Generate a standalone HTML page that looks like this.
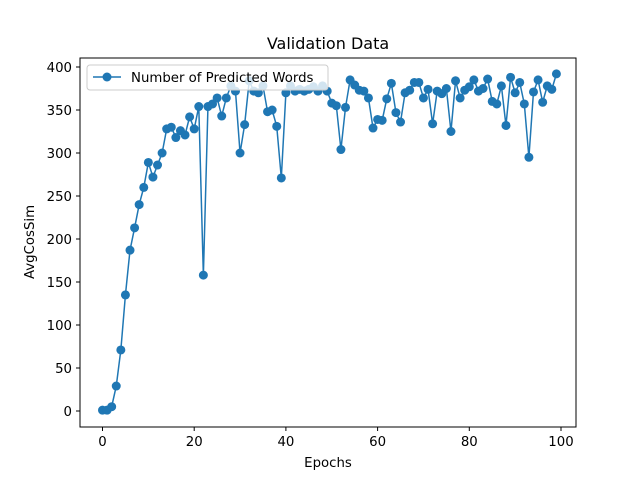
<!DOCTYPE html>
<html><head><meta charset="utf-8"><style>
body{margin:0;background:#fff;}
svg{display:block;font-family:"DejaVu Sans","Liberation Sans",sans-serif;}
</style></head><body>
<svg id="chart" width="640" height="480">
<rect width="640" height="480" fill="#fff"/>
<text x="328" y="49" text-anchor="middle" font-size="16">Validation Data</text>
<g id="plot"></g>
<rect x="80" y="58" width="496" height="369" fill="none" stroke="#000" stroke-width="1"/>
<text x="328" y="467" text-anchor="middle" font-size="13.3">Epochs</text>
<text transform="translate(34,242) rotate(-90)" text-anchor="middle" font-size="13.3">AvgCosSim</text>
<g>
<rect x="87" y="65" width="241" height="25" rx="3" fill="#fff" fill-opacity="0.8" stroke="#ccc"/>
<line x1="93" y1="77" x2="121" y2="77" stroke="#1f77b4" stroke-width="1.5"/>
<circle cx="107" cy="77" r="4.5" fill="#1f77b4"/>
<text x="131" y="82" font-size="13.3">Number of Predicted Words</text>
</g>
</svg>
<script>
const epochs = Array.from({length:100},(_, i)=>i);
const values = [1,1,5,29,71,135,187,213,240,260,289,272,286,300,328,330,318,326,321,342,328,354,158,354,357,364,343,364,378,372,300,333,384,372,370,378,348,350,331,271,370,378,372,374,372,374,377,372,378,372,358,355,304,353,385,379,373,372,364,329,339,338,363,381,347,336,370,373,382,382,364,374,334,372,369,375,325,384,364,373,377,385,372,375,386,360,357,378,332,388,370,382,357,295,371,385,359,378,374,392];
const xTicks = [0,20,40,60,80,100];
const yTicks = [0,50,100,150,200,250,300,350,400];

const NS="http://www.w3.org/2000/svg";
const g=document.getElementById('plot');
const xs=v=>102.5+v*4.585;
const ys=v=>411-v*0.86;
function mk(t,a){const e=document.createElementNS(NS,t);for(const k in a)e.setAttribute(k,a[k]);g.appendChild(e);return e;}
xTicks.forEach(t=>{
  const l=mk('line',{x1:xs(t),x2:xs(t),y1:427,y2:431,stroke:'#000'});
  
  
  const tx=mk('text',{x:xs(t),y:446,'text-anchor':'middle','font-size':13.3});
  tx.textContent=t;
  
  
});
yTicks.forEach(t=>{
  const l=mk('line',{x1:76,x2:80,y1:ys(t),y2:ys(t),stroke:'#000'});
  
  
  const tx=mk('text',{x:72,y:ys(t)+5,'text-anchor':'end','font-size':13.3});
  tx.textContent=t;
  
  
});
const pl=mk('polyline',{points:values.map((v,i)=>xs(epochs[i])+','+ys(v)).join(' '),fill:'none',stroke:'#1f77b4','stroke-width':1.5});


values.forEach((v,i)=>{
  const c=mk('circle',{cx:xs(epochs[i]),cy:ys(v),r:4.5,fill:'#1f77b4'});
  
  
});
</script>
</body></html>
